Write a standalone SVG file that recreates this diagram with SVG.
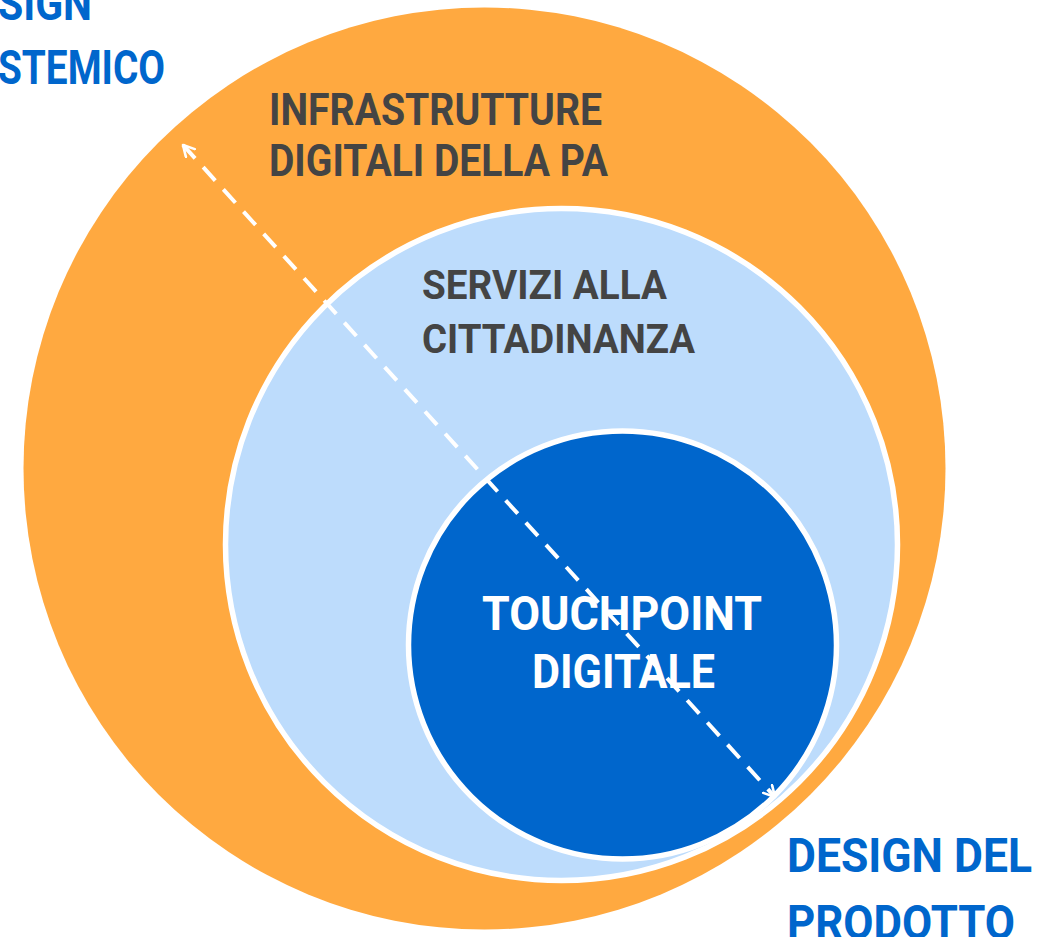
<svg xmlns="http://www.w3.org/2000/svg" width="1056" height="937" viewBox="0 0 1056 937">
<style>
.t{font-family:Roboto,"Liberation Sans",sans-serif;font-weight:700}
.blue{fill:#0066CC}
.gray{fill:#444444}
.white{fill:#FFFFFF}
.ring{stroke:#FFFFFF;stroke-width:5.5}
</style>
<defs>
<marker id="arr" viewBox="0 0 14 14" refX="12" refY="7" markerWidth="14" markerHeight="14" markerUnits="userSpaceOnUse" orient="auto-start-reverse">
<path d="M1,1 L12,7 L1,13" fill="none" stroke="#FFFFFF" stroke-width="2.6" stroke-linecap="round" stroke-linejoin="round"/>
</marker>
</defs>
<rect width="1056" height="937" fill="#FFFFFF"/>
<g id="infrastrutture">
<circle cx="484.5" cy="468.5" r="461" fill="#FFA940"/>
<text class="t gray" x="269" y="125" font-size="45" textLength="333" lengthAdjust="spacingAndGlyphs">INFRASTRUTTURE</text>
<text class="t gray" x="269" y="176" font-size="45" textLength="339" lengthAdjust="spacingAndGlyphs">DIGITALI DELLA PA</text>
</g>
<g id="servizi">
<circle class="ring" cx="561.5" cy="544.5" r="336" fill="#BDDCFC"/>
<text class="t gray" x="422" y="299" font-size="40" textLength="245" lengthAdjust="spacingAndGlyphs">SERVIZI ALLA</text>
<text class="t gray" x="422" y="353" font-size="40" textLength="273" lengthAdjust="spacingAndGlyphs">CITTADINANZA</text>
</g>
<g id="touchpoint">
<circle class="ring" cx="622.5" cy="645" r="214" fill="#0066CC"/>
<text class="t white" x="482" y="630" font-size="49" textLength="280" lengthAdjust="spacingAndGlyphs">TOUCHPOINT</text>
<text class="t white" x="532" y="688" font-size="49" textLength="183" lengthAdjust="spacingAndGlyphs">DIGITALE</text>
</g>
<g id="design-sistemico">
<text class="t blue" x="-2" y="20" font-size="48" textLength="94" lengthAdjust="spacingAndGlyphs">SIGN</text>
<text class="t blue" x="-2" y="84" font-size="48" textLength="167" lengthAdjust="spacingAndGlyphs">STEMICO</text>
</g>
<g id="design-prodotto">
<text class="t blue" x="787" y="872" font-size="48" textLength="245" lengthAdjust="spacingAndGlyphs">DESIGN DEL</text>
<text class="t blue" x="787" y="939" font-size="48" textLength="228" lengthAdjust="spacingAndGlyphs">PRODOTTO</text>
</g>
<g id="connectors">
<line x1="183" y1="145" x2="775" y2="797" stroke="#FFFFFF" stroke-width="4" stroke-dasharray="18 12" marker-start="url(#arr)" marker-end="url(#arr)"/>
</g>
</svg>
